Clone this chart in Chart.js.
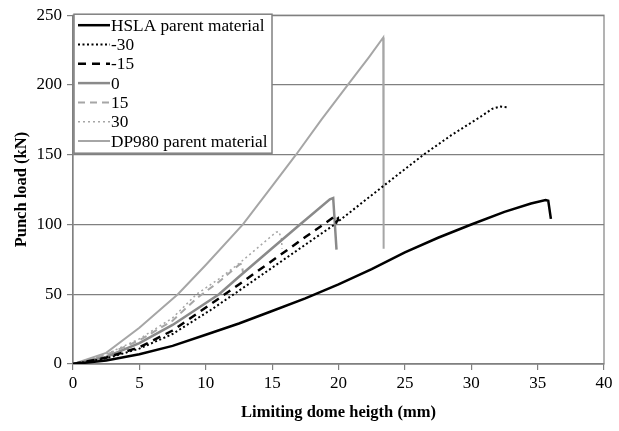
<!DOCTYPE html>
<html>
<head>
<meta charset="utf-8">
<title>Punch load vs limiting dome height</title>
<script src="https://cdn.jsdelivr.net/npm/chart.js@4/dist/chart.umd.min.js"></script>
<style>
  html, body { margin: 0; padding: 0; background: #fff; }
  #wrap { width: 619px; height: 431px; }
</style>
</head>
<body>
<div id="wrap"><canvas id="myChart"></canvas></div>
<script>
// [dome height (mm), punch load (kN)]
const hsla = [[0,0],[2.5,2.5],[5,7],[7.5,13],[10,21],[12.5,29],[15,38],[17.5,47],[20,57],[22.5,68],[25,80],[27.5,90.5],[30,100],[32.5,109],[34.5,115],[35.6,117.5],[35.8,117],[36,104]];
const m30 = [[0,0],[2.5,4],[5,11],[7.5,21.5],[10.5,39.5],[12.5,52.5],[15,69],[17.5,85.5],[19.6,99.3],[23.1,125.5],[26.4,150],[28.5,164],[30.6,176.6],[31.6,183],[32.2,184.5],[32.7,184]];
const m15 = [[0,0],[2.5,4.5],[5,12],[7.5,24],[10.8,45.7],[12.5,57],[15,74],[17.5,91],[19.1,101.6],[19.6,105],[19.8,106.5],[19.95,105],[19.95,103],[19.8,101.5]];
const p0 = [[0,0],[2.5,5],[5,15],[7.5,28],[11,50],[12.5,62.5],[15,83],[17.1,100],[19.35,118],[19.6,119],[19.85,82]];
const p15 = [[0,0],[2.5,6.5],[5,17],[7.5,31],[9.3,47],[11,59],[12.5,71],[12.7,72],[12.8,66]];
const p30 = [[0,0],[2.5,7],[5,18],[7.5,33],[9.3,50],[11,61],[12.5,72],[14,84],[15.3,94.5],[15.5,95],[15.7,90],[15.75,82.7]];
const dp980 = [[0,0],[2.5,8],[5,26],[7.9,50],[10,71],[12.8,100],[15,127.5],[16.8,150],[18.7,175],[20.7,200],[22.3,220],[23.37,234],[23.4,82.6]];

const seriesLabels = ['HSLA parent material', '-30', '-15', '0', '15', '30', 'DP980 parent material'];
const xTicks = [0, 5, 10, 15, 20, 25, 30, 35, 40];
const yTicks = [0, 50, 100, 150, 200, 250];

const serif = "'Liberation Serif', 'Times New Roman', serif";
const axisGray = '#808080';

function pts(arr) { return arr.map(p => ({x: p[0], y: p[1]})); }

const styles = [
  {color: '#000000', width: 2.5, dash: []},
  {color: '#000000', width: 2,   dash: [2, 2.5]},
  {color: '#000000', width: 2.5, dash: [8, 6]},
  {color: '#8a8a8a', width: 2.5, dash: []},
  {color: '#a6a6a6', width: 2,   dash: [7, 5]},
  {color: '#a6a6a6', width: 1.5, dash: [2, 3]},
  {color: '#a6a6a6', width: 2,   dash: []}
];
const seriesData = [hsla, m30, m15, p0, p15, p30, dp980];

const datasets = seriesData.map((d, k) => ({
  label: seriesLabels[k],
  data: pts(d),
  borderColor: styles[k].color,
  backgroundColor: styles[k].color,
  borderWidth: styles[k].width,
  borderDash: styles[k].dash,
  pointRadius: 0,
  tension: 0,
  fill: false
}));

// frame around the plot plus a boxed legend in the upper left corner
const frameAndLegend = {
  id: 'frameAndLegend',
  beforeDatasetsDraw(chart) {
    const a = chart.chartArea, ctx = chart.ctx;
    ctx.save();
    ctx.strokeStyle = axisGray;
    ctx.lineWidth = 1.2;
    ctx.strokeRect(a.left, a.top, a.right - a.left, a.bottom - a.top);
    ctx.restore();
  },
  afterDatasetsDraw(chart) {
    const a = chart.chartArea, ctx = chart.ctx;
    const bx = a.left + 1, by = a.top - 1, bw = 198, bh = 139;
    ctx.save();
    ctx.fillStyle = '#fff';
    ctx.fillRect(bx, by, bw, bh);
    ctx.strokeStyle = axisGray;
    ctx.lineWidth = 1.5;
    ctx.strokeRect(bx, by, bw, bh);
    ctx.font = '17.3px ' + serif;
    ctx.textBaseline = 'middle';
    chart.data.datasets.forEach((ds, k) => {
      const y = by + 11 + k * 19.3;
      ctx.beginPath();
      ctx.strokeStyle = ds.borderColor;
      ctx.lineWidth = ds.borderWidth;
      ctx.setLineDash(ds.borderDash);
      ctx.moveTo(bx + 4, y);
      ctx.lineTo(bx + 36, y);
      ctx.stroke();
      ctx.setLineDash([]);
      ctx.fillStyle = '#000';
      ctx.fillText(ds.label, bx + 37, y + 1);
    });
    ctx.restore();
  }
};

const config = {
  type: 'line',
  data: { datasets: datasets },
  options: {
    responsive: false,
    animation: false,
    layout: { padding: { top: 14, right: 15, left: 0, bottom: 0 } },
    plugins: { legend: { display: false }, tooltip: { enabled: false } },
    scales: {
      x: {
        type: 'linear',
        min: 0, max: 40,
        afterBuildTicks: s => { s.ticks = xTicks.map(v => ({value: v})); },
        afterFit: s => { s.height = 67; },
        grid: { drawOnChartArea: false, drawTicks: true, tickLength: 6, color: axisGray, lineWidth: 1.2 },
        border: { color: axisGray, width: 1.2 },
        ticks: { color: '#000', font: { family: serif, size: 17 }, padding: 3, maxRotation: 0 },
        title: { display: true, text: 'Limiting dome heigth (mm)', color: '#000', font: { family: serif, size: 16.5, weight: 'bold' }, padding: { top: 10, bottom: 8 } }
      },
      y: {
        type: 'linear',
        min: 0, max: 250,
        afterBuildTicks: s => { s.ticks = yTicks.map(v => ({value: v})); },
        afterFit: s => { s.width = 73; },
        grid: { drawOnChartArea: true, drawTicks: true, tickLength: 6, color: axisGray, lineWidth: 1.2 },
        border: { color: axisGray, width: 1.2 },
        ticks: { color: '#000', font: { family: serif, size: 17 }, padding: 5 },
        title: { display: true, text: 'Punch load (kN)', color: '#000', font: { family: serif, size: 16.5, weight: 'bold' }, padding: { top: 12, bottom: 0 } }
      }
    }
  },
  plugins: [frameAndLegend]
};

const canvas = document.getElementById('myChart');
canvas.width = 619;
canvas.height = 431;
const myChart = new Chart(canvas, config);
</script>
</body>
</html>
